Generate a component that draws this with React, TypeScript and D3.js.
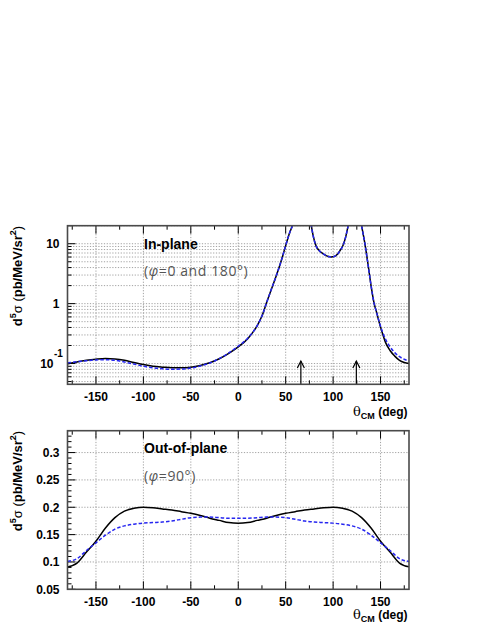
import React from 'react';
import * as d3 from 'd3';

// ---------- DATA ----------
const inTheta = [-180, -170, -160, -150, -140, -130, -120, -110, -100, -90, -80, -70, -60, -50, -40, -30, -20, -10, 0, 10, 20, 25, 30, 35, 40, 45, 50, 54, 58, 62, 70, 74, 77, 79, 82, 85, 90, 95, 98, 101, 105, 108, 110.5, 113, 116, 119, 124, 127, 130, 133.5, 137, 140, 143, 146, 149, 152, 155, 160, 165, 170, 175, 180];
const inSolid = [0.099, 0.106, 0.113, 0.118, 0.121, 0.119, 0.113, 0.104, 0.096, 0.090, 0.087, 0.085, 0.085, 0.087, 0.093, 0.103, 0.120, 0.148, 0.19, 0.26, 0.43, 0.62, 1.05, 1.75, 2.9, 5.0, 9.3, 15, 22, 40, 80, 35, 20, 13.5, 9.2, 7.8, 6.7, 6.1, 6.0, 6.1, 6.8, 8.0, 9.4, 12.5, 20.5, 35, 80, 35, 20, 10, 4.3, 2.0, 1.05, 0.7, 0.46, 0.32, 0.23, 0.165, 0.133, 0.113, 0.104, 0.100];
const inDashed = [0.103, 0.107, 0.111, 0.115, 0.116, 0.113, 0.106, 0.098, 0.090, 0.085, 0.082, 0.080, 0.081, 0.084, 0.091, 0.102, 0.121, 0.150, 0.195, 0.265, 0.43, 0.62, 1.05, 1.75, 2.9, 5.0, 9.3, 15, 22, 40, 80, 35, 20, 13.5, 9.2, 7.8, 6.7, 6.1, 6.0, 6.1, 6.8, 8.0, 9.4, 12.5, 20.5, 35, 80, 35, 20, 10, 4.3, 2.0, 1.05, 0.7, 0.47, 0.34, 0.26, 0.19, 0.152, 0.130, 0.118, 0.110];

const outTheta = [-180, -170, -160, -150, -140, -130, -120, -110, -100, -90, -80, -70, -60, -50, -40, -30, -20, -10, 0, 10, 20, 30, 40, 50, 60, 70, 80, 90, 100, 110, 120, 130, 140, 150, 160, 170, 180];
const outSolid = [0.091, 0.098, 0.118, 0.138, 0.162, 0.181, 0.193, 0.198, 0.200, 0.199, 0.197, 0.195, 0.192, 0.189, 0.185, 0.180, 0.176, 0.172, 0.171, 0.172, 0.176, 0.180, 0.185, 0.189, 0.192, 0.195, 0.197, 0.199, 0.200, 0.198, 0.193, 0.181, 0.162, 0.138, 0.118, 0.098, 0.091];
const outDashed = [0.101, 0.106, 0.121, 0.135, 0.149, 0.160, 0.166, 0.169, 0.171, 0.172, 0.173, 0.175, 0.178, 0.181, 0.182, 0.182, 0.181, 0.180, 0.180, 0.180, 0.181, 0.182, 0.182, 0.181, 0.178, 0.175, 0.173, 0.172, 0.171, 0.169, 0.166, 0.160, 0.149, 0.135, 0.121, 0.106, 0.101];

const xTicks = [-150, -100, -50, 0, 50, 100, 150];
const xMinorTicks = [-175, -125, -75, -25, 25, 75, 125, 175];
const logMajor = [0.1, 1, 10];
const logLabels = ['10', '1', '10'];
const linTicks = [0.05, 0.1, 0.15, 0.2, 0.25, 0.3];
const linLabels = ['0.05', '0.1', '0.15', '0.2', '0.25', '0.3'];
const arrowTheta = [66, 124.5];
const arrowTip = 0.11;

// ---------- LAYOUT ----------
const W = 491, H = 635;
const X0 = 67.5, X1 = 409;
const TOP = { y0: 225.7, y1: 384.3 };
const BOT = { y0: 430.7, y1: 589.3 };
const FONT = 'Liberation Sans, Arial, Helvetica, sans-serif';

const x = d3.scaleLinear().domain([-180, 180]).range([X0, X1]);
const yLog = d3.scaleLog().domain([0.045, 20]).range([TOP.y1, TOP.y0]);
const yLin = d3.scaleLinear().domain([0.05, 0.34]).range([BOT.y1, BOT.y0]);

function logMinors(): number[] {
  const out: number[] = [];
  [0.01, 0.1, 1, 10].forEach((dec) => {
    for (let k = 1; k <= 9; k++) {
      const v = dec * k;
      if (v >= 0.045 && v <= 20) out.push(v);
    }
  });
  return out;
}

const GRID = { stroke: '#8a8a8a', strokeWidth: 0.8, strokeDasharray: '1.2,1.6' };

function XAxisParts({ y0, y1, labelY, titleY }: { y0: number; y1: number; labelY: number; titleY: number }) {
  return (
    <g>
      {xTicks.map((t) => (
        <line key={'g' + t} x1={x(t)} x2={x(t)} y1={y0} y2={y1} {...GRID} />
      ))}
      {xTicks.map((t) => (
        <g key={'t' + t}>
          <line x1={x(t)} x2={x(t)} y1={y1} y2={y1 - 8} stroke="#000" strokeWidth={1} />
          <line x1={x(t)} x2={x(t)} y1={y0} y2={y0 + 8} stroke="#000" strokeWidth={1} />
        </g>
      ))}
      {xMinorTicks.map((t) => (
        <g key={'m' + t}>
          <line x1={x(t)} x2={x(t)} y1={y1} y2={y1 - 4} stroke="#000" strokeWidth={1} />
          <line x1={x(t)} x2={x(t)} y1={y0} y2={y0 + 4} stroke="#000" strokeWidth={1} />
        </g>
      ))}
      {xTicks.map((t) => (
        <text key={'l' + t} x={x(t)} y={labelY} textAnchor="middle" fontFamily={FONT} fontWeight="bold" fontSize={12}>
          {t}
        </text>
      ))}
      <text x={407.5} y={titleY} textAnchor="end" fontFamily={FONT} fontSize={12}>
        <tspan fontWeight="normal" fontFamily="DejaVu Serif, serif" fontSize={13}>θ</tspan>
        <tspan fontWeight="bold" fontSize={9} dy={3}>CM</tspan>
        <tspan fontWeight="bold" dy={-3}> (deg)</tspan>
      </text>
    </g>
  );
}

function YTitle({ cx, cy }: { cx: number; cy: number }) {
  return (
    <text transform={`translate(${cx},${cy}) rotate(-90)`} textAnchor="middle" fontFamily={FONT} fontSize={13} fontWeight="bold">
      <tspan>d</tspan>
      <tspan fontSize={9} dy={-6}>5</tspan>
      <tspan fontWeight="normal" dy={6}>σ (</tspan>
      <tspan>pb/MeV/sr</tspan>
      <tspan fontSize={9} dy={-6}>2</tspan>
      <tspan fontWeight="normal" dy={6}>)</tspan>
    </text>
  );
}

export default function App() {
  const lineLog = d3
    .line<number>()
    .x((_, i) => x(inTheta[i]))
    .y((d) => yLog(d))
    .curve(d3.curveMonotoneX);
  const lineLin = d3
    .line<number>()
    .x((_, i) => x(outTheta[i]))
    .y((d) => yLin(d))
    .curve(d3.curveMonotoneX);

  const minors = logMinors();
  const linMinors = d3.range(0.05, 0.3401, 0.01);

  return (
    <svg width={W} height={H} style={{ position: 'absolute', left: 0, top: 0, background: '#fff' }}>
      <defs>
        <clipPath id="clipTop">
          <rect x={X0} y={TOP.y0} width={X1 - X0} height={TOP.y1 - TOP.y0} />
        </clipPath>
        <clipPath id="clipBot">
          <rect x={X0} y={BOT.y0} width={X1 - X0} height={BOT.y1 - BOT.y0} />
        </clipPath>
      </defs>
      <rect x={0} y={0} width={W} height={H} fill="#fff" />

      {/* ---------- TOP PANEL ---------- */}
      {minors.map((v, i) => (
        <line key={'tg' + i} x1={X0} x2={X1} y1={yLog(v)} y2={yLog(v)} {...GRID} />
      ))}
      {minors.map((v, i) => {
        const major = logMajor.indexOf(v) >= 0;
        return <line key={'tt' + i} x1={X0} x2={X0 + (major ? 8 : 4)} y1={yLog(v)} y2={yLog(v)} stroke="#000" strokeWidth={1} />;
      })}
      <XAxisParts y0={TOP.y0} y1={TOP.y1} labelY={400.5} titleY={416} />
      {logMajor.map((v, i) =>
        v === 0.1 ? (
          <g key={'ll' + i}>
            <text x={53.5} y={yLog(v) + 4.3} textAnchor="end" fontFamily={FONT} fontWeight="bold" fontSize={12}>
              {logLabels[i]}
            </text>
            <text x={54} y={yLog(v) - 6.5} textAnchor="start" fontFamily={FONT} fontWeight="bold" fontSize={10}>
              -1
            </text>
          </g>
        ) : (
          <text key={'ll' + i} x={59.5} y={yLog(v) + 4.3} textAnchor="end" fontFamily={FONT} fontWeight="bold" fontSize={12}>
            {logLabels[i]}
          </text>
        )
      )}
      <g clipPath="url(#clipTop)">
        <path d={lineLog(inSolid) || ''} fill="none" stroke="#000" strokeWidth={1.5} />
        <path d={lineLog(inDashed) || ''} fill="none" stroke="#2626f0" strokeWidth={1.5} strokeDasharray="3.5,2" />
      </g>
      {arrowTheta.map((t) => (
        <g key={'a' + t} stroke="#000" strokeWidth={1.2} fill="none">
          <line x1={x(t)} x2={x(t)} y1={TOP.y1} y2={yLog(arrowTip)} />
          <polyline points={`${x(t) - 3.5},${yLog(arrowTip) + 7} ${x(t)},${yLog(arrowTip)} ${x(t) + 3.5},${yLog(arrowTip) + 7}`} />
        </g>
      ))}
      <rect x={X0} y={TOP.y0} width={X1 - X0} height={TOP.y1 - TOP.y0} fill="none" stroke="#4a4a4a" strokeWidth={1.6} />
      <text x={144} y={249} fontFamily={FONT} fontWeight="bold" fontSize={14}>In-plane</text>
      <text x={144} y={276} fontFamily="Open Sans, DejaVu Sans, sans-serif" fontSize={14} letterSpacing={0.6} fill="#555">
        (<tspan fontStyle="italic">φ</tspan>=0 and 180°)
      </text>
      <YTitle cx={22} cy={276} />

      {/* ---------- BOTTOM PANEL ---------- */}
      {linTicks.slice(1).map((v) => (
        <line key={'bg' + v} x1={X0} x2={X1} y1={yLin(v)} y2={yLin(v)} {...GRID} />
      ))}
      {linMinors.map((v, i) => {
        const major = Math.abs(v / 0.05 - Math.round(v / 0.05)) < 1e-6;
        return <line key={'bt' + i} x1={X0} x2={X0 + (major ? 8 : 4)} y1={yLin(v)} y2={yLin(v)} stroke="#000" strokeWidth={1} />;
      })}
      <XAxisParts y0={BOT.y0} y1={BOT.y1} labelY={605.5} titleY={619} />
      {linTicks.map((v, i) => (
        <text key={'bl' + v} x={59.5} y={yLin(v) + 4.3} textAnchor="end" fontFamily={FONT} fontWeight="bold" fontSize={12}>
          {linLabels[i]}
        </text>
      ))}
      <g clipPath="url(#clipBot)">
        <path d={lineLin(outSolid) || ''} fill="none" stroke="#000" strokeWidth={1.5} />
        <path d={lineLin(outDashed) || ''} fill="none" stroke="#2626f0" strokeWidth={1.5} strokeDasharray="3.5,2" />
      </g>
      <rect x={X0} y={BOT.y0} width={X1 - X0} height={BOT.y1 - BOT.y0} fill="none" stroke="#4a4a4a" strokeWidth={1.6} />
      <text x={144} y={452.5} fontFamily={FONT} fontWeight="bold" fontSize={14}>Out-of-plane</text>
      <text x={144} y={481} fontFamily="Open Sans, DejaVu Sans, sans-serif" fontSize={14} letterSpacing={0.6} fill="#555">
        (<tspan fontStyle="italic">φ</tspan>=90°)
      </text>
      <YTitle cx={22} cy={481} />
    </svg>
  );
}
